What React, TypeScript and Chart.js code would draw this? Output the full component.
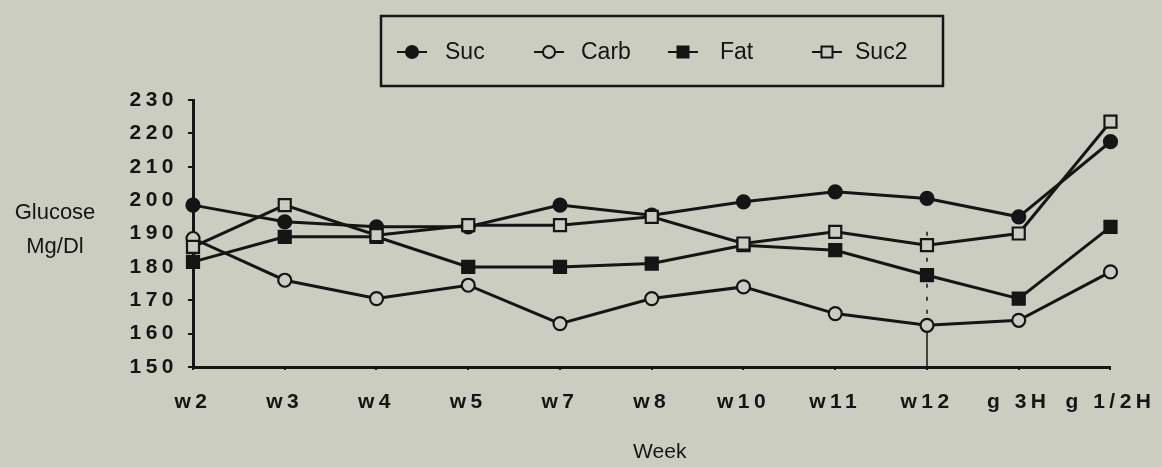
import React, { useEffect, useRef } from 'react';
import { Chart, registerables } from 'chart.js';

Chart.register(...registerables);

const weeks = ['w2', 'w3', 'w4', 'w5', 'w7', 'w8', 'w10', 'w11', 'w12', 'g 3H', 'g 1/2H'];
const sucValues = [198.5, 193.5, 192, 192, 198.5, 195.5, 199.5, 202.5, 200.5, 195, 217.5];
const carbValues = [188.5, 176, 170.5, 174.5, 163, 170.5, 174, 166, 162.5, 164, 178.5];
const fatValues = [181.5, 189, 189, 180, 180, 181, 186.5, 185, 177.5, 170.5, 192];
const suc2Values = [186, 198.5, 189.5, 192.5, 192.5, 195, 187, 190.5, 186.5, 190, 223.5];
const yMin = 150;
const yMax = 230;
const yStep = 10;

const BG = '#cbcdc1';
const INK = '#151515';
const FONT = '"Liberation Sans", Arial, Helvetica, sans-serif';

type SeriesStyle = { label: string; data: number[]; pointStyle: string; filled: boolean; order: number };

const series: SeriesStyle[] = [
  { label: 'Suc', data: sucValues, pointStyle: 'circle', filled: true, order: 3 },
  { label: 'Carb', data: carbValues, pointStyle: 'circle', filled: false, order: 4 },
  { label: 'Fat', data: fatValues, pointStyle: 'rect', filled: true, order: 2 },
  { label: 'Suc2', data: suc2Values, pointStyle: 'rect', filled: false, order: 1 },
];

function drawMarker(ctx: CanvasRenderingContext2D, x: number, y: number, s: SeriesStyle) {
  ctx.save();
  ctx.lineWidth = 2;
  ctx.strokeStyle = INK;
  ctx.fillStyle = s.filled ? INK : BG;
  ctx.beginPath();
  if (s.pointStyle === 'circle') {
    ctx.arc(x, y, 6, 0, Math.PI * 2);
  } else {
    ctx.rect(x - 5.5, y - 5.5, 11, 11);
  }
  ctx.fill();
  ctx.stroke();
  ctx.restore();
}

export default function App() {
  const ref = useRef<HTMLCanvasElement>(null);

  useEffect(() => {
    if (!ref.current) return;

    const spacingPlugin = {
      id: 'spacing',
      beforeDraw(chart: any) {
        (chart.ctx as any).letterSpacing = '4.5px';
      },
    };

    const decorPlugin = {
      id: 'decor',
      beforeDatasetsDraw(chart: any) {
        const ctx: CanvasRenderingContext2D = chart.ctx;
        const xs = chart.scales.x;
        const ys = chart.scales.y;
        const idx = weeks.indexOf('w12');
        const x = xs.getPixelForValue(idx);
        ctx.save();
        ctx.strokeStyle = INK;
        ctx.lineWidth = 1.5;
        ctx.setLineDash([4, 9]);
        ctx.beginPath();
        ctx.moveTo(x, ys.getPixelForValue(suc2Values[idx] + 4));
        ctx.lineTo(x, ys.getPixelForValue(carbValues[idx]));
        ctx.stroke();
        ctx.setLineDash([]);
        ctx.beginPath();
        ctx.moveTo(x, ys.getPixelForValue(carbValues[idx]));
        ctx.lineTo(x, ys.bottom);
        ctx.stroke();
        ctx.restore();
      },
      afterDraw(chart: any) {
        const ctx: CanvasRenderingContext2D = chart.ctx;
        const area = chart.chartArea;
        ctx.save();
        (ctx as any).letterSpacing = '0px';
        ctx.fillStyle = INK;
        ctx.textAlign = 'center';
        ctx.textBaseline = 'middle';
        // y-axis title, horizontal
        ctx.font = `22px ${FONT}`;
        ctx.fillText('Glucose', 55, 213);
        ctx.fillText('Mg/Dl', 55, 247);
        // x-axis title
        ctx.font = `21px ${FONT}`;
        ctx.fillText('Week', (area.left + area.right) / 2 + 8, 452);

        // boxed legend
        const bx = 381, by = 16, bw = 562, bh = 70;
        ctx.lineWidth = 2.5;
        ctx.strokeStyle = INK;
        ctx.strokeRect(bx, by, bw, bh);
        const cy = by + bh / 2 + 1;
        const markerX = [412, 549, 683, 827];
        const textX = [445, 581, 720, 855];
        ctx.font = `23px ${FONT}`;
        ctx.textAlign = 'left';
        series.forEach((s, i) => {
          ctx.lineWidth = 2;
          ctx.beginPath();
          ctx.moveTo(markerX[i] - 15, cy);
          ctx.lineTo(markerX[i] + 15, cy);
          ctx.stroke();
          drawMarker(ctx, markerX[i], cy, s);
          ctx.fillStyle = INK;
          ctx.fillText(s.label, textX[i], cy + 1);
        });
        ctx.restore();
      },
    };

    const chart = new Chart(ref.current, {
      type: 'line',
      data: {
        labels: weeks,
        datasets: series.map((s) => ({
          label: s.label,
          data: s.data,
          order: s.order,
          borderColor: INK,
          borderWidth: 3,
          backgroundColor: s.filled ? INK : BG,
          pointStyle: s.pointStyle as any,
          pointRadius: s.pointStyle === 'rect' ? 8.5 : 6.5,
          pointBorderWidth: 2.2,
          pointBorderColor: INK,
          pointBackgroundColor: s.filled ? INK : BG,
          tension: 0,
          fill: false,
          clip: false as any,
        })),
      },
      options: {
        responsive: false,
        animation: false,
        devicePixelRatio: 1,
        layout: { padding: { top: 100, right: 47, left: 0, bottom: 0 } },
        plugins: {
          legend: { display: false },
          tooltip: { enabled: false },
          title: { display: false },
        },
        scales: {
          x: {
            type: 'category',
            offset: false,
            border: { display: true, color: INK, width: 3 },
            grid: { display: true, drawOnChartArea: false, drawTicks: true, tickLength: 3, color: INK, lineWidth: 2 },
            ticks: {
              color: INK,
              font: { family: FONT, size: 21, weight: 'bold' },
              padding: 20,
              autoSkip: false,
              maxRotation: 0,
              minRotation: 0,
            },
            afterFit: (s: any) => {
              s.height = 100;
            },
          },
          y: {
            type: 'linear',
            min: yMin,
            max: yMax,
            border: { display: true, color: INK, width: 3 },
            grid: { display: true, drawOnChartArea: false, drawTicks: true, tickLength: 5, color: INK, lineWidth: 2 },
            ticks: {
              stepSize: yStep,
              color: INK,
              font: { family: FONT, size: 21, weight: 'bold' },
              padding: 10,
            },
            afterFit: (s: any) => {
              s.width = 193;
            },
          },
        },
      },
      plugins: [spacingPlugin, decorPlugin],
    });

    return () => chart.destroy();
  }, []);

  return (
    <div style={{ position: 'fixed', inset: 0, background: BG }}>
      <canvas ref={ref} width={1162} height={467} style={{ display: 'block' }} />
    </div>
  );
}
